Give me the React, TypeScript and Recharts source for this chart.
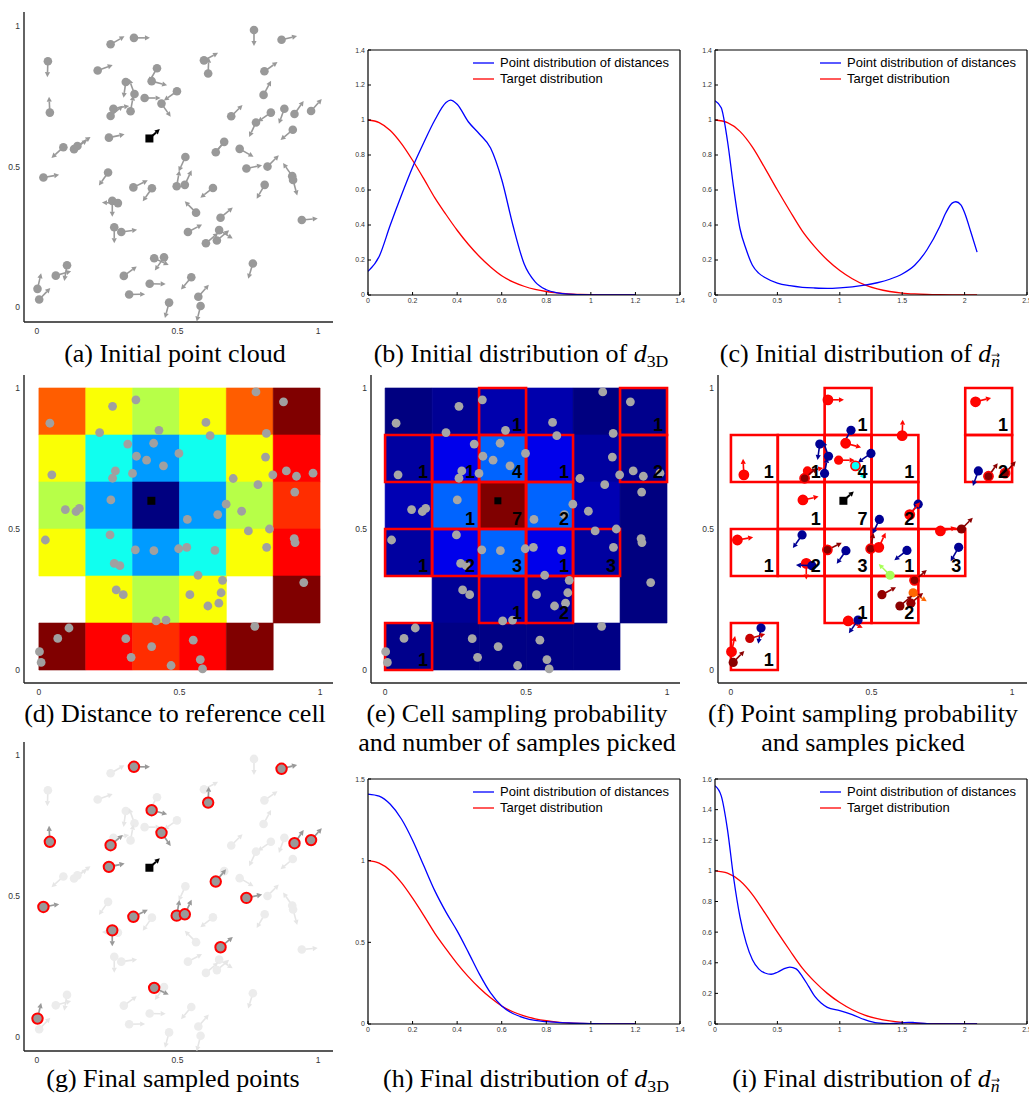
import React from 'react';
import { ScatterChart, Scatter, XAxis, YAxis, ReferenceArea, LineChart, Line, Legend } from 'recharts';

const SANS = '"Liberation Sans", Arial, Helvetica, sans-serif';
const SERIF = '"Liberation Serif", "Times New Roman", Times, serif';

// ---------- point cloud: [x, y, normal direction in degrees] ----------
const cloud: [number, number, number][] = [
  [0.772, 0.986, -90], [0.345, 0.958, 0], [0.262, 0.935, 30], [0.870, 0.951, 14],
  [0.039, 0.875, -92], [0.594, 0.878, 28], [0.609, 0.831, 88], [0.216, 0.842, 20],
  [0.809, 0.839, 35], [0.427, 0.850, -120], [0.408, 0.804, -15], [0.316, 0.801, -98],
  [0.347, 0.758, 110], [0.333, 0.697, 80], [0.383, 0.744, 0], [0.498, 0.768, -145],
  [0.443, 0.724, -55], [0.806, 0.755, 62], [0.046, 0.692, 93], [0.272, 0.706, 10],
  [0.262, 0.680, 40], [0.691, 0.679, 45], [0.832, 0.692, -145], [0.779, 0.657, -115],
  [0.880, 0.706, -110], [0.916, 0.687, 55], [0.975, 0.698, 48], [0.910, 0.631, -140],
  [0.256, 0.603, 12], [0.094, 0.569, -138], [0.132, 0.562, 35], [0.144, 0.573, 35],
  [0.666, 0.588, -130], [0.636, 0.551, 50], [0.721, 0.563, -30], [0.528, 0.534, -115],
  [0.023, 0.461, 10], [0.745, 0.493, 12], [0.820, 0.500, 45], [0.908, 0.466, 125],
  [0.911, 0.452, -75], [0.253, 0.479, -125], [0.343, 0.426, 26], [0.409, 0.423, -125],
  [0.497, 0.430, 80], [0.526, 0.435, 65], [0.626, 0.424, -142], [0.810, 0.435, -120],
  [0.268, 0.378, -90], [0.288, 0.370, 178], [0.566, 0.336, 135], [0.653, 0.318, 40],
  [0.942, 0.310, 5], [0.275, 0.284, -90], [0.300, 0.267, 8], [0.537, 0.267, 28],
  [0.648, 0.274, -32], [0.601, 0.227, 40], [0.640, 0.237, 40], [0.417, 0.174, -25],
  [0.452, 0.177, -125], [0.768, 0.155, -107], [0.107, 0.149, -100], [0.067, 0.112, 16],
  [0.002, 0.065, 77], [0.008, 0.027, 46], [0.309, 0.111, 36], [0.401, 0.083, -1],
  [0.549, 0.106, -130], [0.328, 0.045, 1], [0.574, 0.037, 49], [0.470, 0.016, -105],
  [0.582, 0.004, -104],
];
const referencePoint = [{ x: 0.4, y: 0.6, a: 42 }];

// ---------- grid (6 x 6 cells), rows listed top (row 5) to bottom (row 0) ----------
const gridSize = 6;
const distanceRows: (number | null)[][] = [
  [2.83, 2.24, 2.0, 2.24, 2.83, 3.61],
  [2.24, 1.41, 1.0, 1.41, 2.24, 3.16],
  [2.0, 1.0, 0, 1.0, 2.0, 3.0],
  [2.24, 1.41, 1.0, 1.41, 2.24, 3.16],
  [null, 2.24, 2.0, 2.24, null, 3.61],
  [3.61, 3.16, 3.0, 3.16, 3.61, null],
];
const distanceMax = 3.61;
const cellProbRows: (number | null)[][] = [
  [0.0, 0.02, 0.045, 0.045, 0.0, 0.012],
  [0.032, 0.105, 0.223, 0.105, 0.032, 0.012],
  [0.05, 0.223, 1.0, 0.223, 0.05, 0.0],
  [0.032, 0.105, 0.223, 0.105, 0.032, 0.0],
  [null, 0.022, 0.047, 0.035, null, 0.0],
  [0.012, 0.005, 0.005, 0.005, 0.005, null],
];
// [column, row, samples picked]
const pickedCells: [number, number, number][] = [
  [2, 5, 1], [5, 5, 1], [0, 4, 1], [1, 4, 1], [2, 4, 4], [3, 4, 1], [5, 4, 2],
  [1, 3, 1], [2, 3, 7], [3, 3, 2], [0, 2, 1], [1, 2, 2], [2, 2, 3], [3, 2, 1],
  [4, 2, 3], [2, 1, 1], [3, 1, 2], [0, 0, 1],
];
// [point id, sampling probability (colour scale 0..1)]
const pointProb: [number, number][] = [
  [2, 0.87], [4, 0.87], [7, 0.87], [10, 0.02], [11, 0.87], [12, 0.02], [13, 0.02], [14, 0.02],
  [15, 0.87], [16, 0.02], [17, 0.38], [19, 0.87], [20, 0.87], [21, 0.99], [25, 0.02], [26, 0.99],
  [27, 0.99], [29, 0.87], [33, 0.02], [34, 0.87], [36, 0.02], [37, 0.87], [38, 0.87], [39, 0.99],
  [42, 0.02], [43, 0.99], [44, 0.02], [45, 0.99], [46, 0.87], [47, 0.02], [48, 0.02], [49, 0.87],
  [50, 0.02], [51, 0.54], [52, 0.99], [56, 0.98], [57, 0.775], [58, 0.99], [59, 0.98], [60, 0.87],
  [61, 0.02], [63, 0.02], [64, 0.93], [65, 0.87], [66, 0.99],
];
const sampledIds = [2, 4, 7, 11, 17, 19, 21, 26, 27, 29, 34, 37, 38, 43, 45, 46, 49, 52, 60, 65];

// ---------- distance distributions ----------
const d3dTargetX = [0, 0.05, 0.1, 0.15, 0.2, 0.25, 0.3, 0.35, 0.4, 0.45, 0.5, 0.55, 0.6, 0.65, 0.7, 0.75, 0.8, 0.85, 0.9, 0.95, 1.0, 1.05, 1.1, 1.15, 1.2];
const d3dTargetY = [1.0, 0.985, 0.94, 0.865, 0.77, 0.665, 0.555, 0.46, 0.37, 0.29, 0.22, 0.16, 0.11, 0.075, 0.05, 0.032, 0.02, 0.012, 0.007, 0.004, 0.002, 0.001, 0.0005, 0.0002, 0];
const d3dInitX = [0, 0.05, 0.1, 0.15, 0.2, 0.25, 0.3, 0.35, 0.37, 0.4, 0.45, 0.5, 0.55, 0.6, 0.65, 0.7, 0.75, 0.8, 0.85, 0.9, 1.0, 1.1, 1.2];
const d3dInitY = [0.135, 0.22, 0.4, 0.57, 0.73, 0.87, 1.0, 1.1, 1.114, 1.09, 0.99, 0.92, 0.84, 0.66, 0.4, 0.18, 0.075, 0.03, 0.012, 0.005, 0.001, 0.0, 0.0];
const d3dFinalX = [0, 0.05, 0.1, 0.15, 0.2, 0.25, 0.3, 0.35, 0.4, 0.45, 0.5, 0.55, 0.6, 0.65, 0.7, 0.75, 0.8, 0.9, 1.0, 1.1, 1.2];
const d3dFinalY = [1.408, 1.395, 1.345, 1.255, 1.125, 0.97, 0.815, 0.685, 0.57, 0.44, 0.305, 0.19, 0.11, 0.064, 0.038, 0.022, 0.014, 0.006, 0.002, 0.0005, 0];
const dnTargetX = [0, 0.1, 0.2, 0.3, 0.4, 0.5, 0.6, 0.7, 0.8, 0.9, 1.0, 1.1, 1.2, 1.3, 1.4, 1.5, 1.6, 1.7, 1.8, 1.9, 2.0, 2.1];
const dnTargetY = [1.0, 0.985, 0.935, 0.845, 0.725, 0.6, 0.48, 0.365, 0.275, 0.2, 0.14, 0.093, 0.058, 0.035, 0.02, 0.011, 0.006, 0.003, 0.0015, 0.0007, 0.0003, 0];
const dnInitX = [0, 0.05, 0.1, 0.15, 0.2, 0.25, 0.3, 0.35, 0.4, 0.5, 0.6, 0.7, 0.8, 0.9, 1.0, 1.1, 1.2, 1.3, 1.4, 1.5, 1.6, 1.7, 1.8, 1.85, 1.9, 1.93, 1.97, 2.0, 2.05, 2.1];
const dnInitY = [1.11, 1.07, 0.88, 0.61, 0.38, 0.26, 0.17, 0.125, 0.1, 0.068, 0.053, 0.044, 0.04, 0.038, 0.041, 0.047, 0.056, 0.07, 0.09, 0.12, 0.17, 0.26, 0.39, 0.47, 0.525, 0.533, 0.515, 0.47, 0.36, 0.245];
const dnFinalX = [0, 0.05, 0.1, 0.15, 0.2, 0.25, 0.3, 0.35, 0.4, 0.45, 0.5, 0.55, 0.6, 0.65, 0.7, 0.75, 0.8, 0.85, 0.9, 1.0, 1.1, 1.2, 1.3, 1.4, 1.5, 1.55, 1.6, 1.7, 1.8, 1.9, 2.0, 2.1];
const dnFinalY = [1.556, 1.49, 1.27, 0.95, 0.7, 0.53, 0.42, 0.36, 0.333, 0.325, 0.338, 0.36, 0.372, 0.36, 0.31, 0.246, 0.18, 0.137, 0.109, 0.087, 0.061, 0.028, 0.007, 0.003, 0.008, 0.011, 0.009, 0.003, 0.001, 0, 0, 0];

const d3dTicksX = [0, 0.2, 0.4, 0.6, 0.8, 1, 1.2, 1.4];
const dnTicksX = [0, 0.5, 1, 1.5, 2, 2.5];
const ticks14 = [0, 0.2, 0.4, 0.6, 0.8, 1, 1.2, 1.4];
const ticks15 = [0, 0.5, 1, 1.5];
const ticks16 = [0, 0.2, 0.4, 0.6, 0.8, 1, 1.2, 1.4, 1.6];
const unitTicks = [0, 0.5, 1];
const legendNames = ['Point distribution of distances', 'Target distribution'];
const legendColors = ['#0000ff', '#ff0000'];

// ---------- helpers ----------
function jet(t: number): string {
  const c = (v: number) => Math.round(255 * Math.max(0, Math.min(1, v)));
  return `rgb(${c(1.5 - Math.abs(4 * t - 3))},${c(1.5 - Math.abs(4 * t - 2))},${c(1.5 - Math.abs(4 * t - 1))})`;
}
const series = (xs: number[], ys: number[]) => xs.map((x, i) => ({ x, v: ys[i] }));

type P = { id: number; x: number; y: number; a: number; t?: number; s?: boolean };
const points: P[] = cloud.map(([x, y, a], i) => ({ id: i + 1, x, y, a }));
const sampledSet = new Set(sampledIds);
const probPoints: P[] = pointProb.map(([id, t]) => ({ ...points[id - 1], t, s: sampledSet.has(id) }));
const sampledPoints: P[] = sampledIds.map((id) => points[id - 1]);

type Cell = { col: number; row: number; v: number };
const toCells = (rows: (number | null)[][]): Cell[] => {
  const out: Cell[] = [];
  rows.forEach((r, ri) => r.forEach((v, col) => { if (v !== null) out.push({ col, row: gridSize - 1 - ri, v }); }));
  return out;
};
const distanceCells = toCells(distanceRows);
const probCells = toCells(cellProbRows);

function arrow(cx: number, cy: number, a: number, color: string, len = 16, w = 1.6) {
  const rad = (a * Math.PI) / 180;
  const ux = Math.cos(rad), uy = -Math.sin(rad);
  const head = 5, hw = 2.6;
  const tx = cx + ux * len, ty = cy + uy * len;
  const bx = cx + ux * (len - head), by = cy + uy * (len - head);
  const px = -uy, py = ux;
  return (
    <>
      <line x1={cx} y1={cy} x2={bx} y2={by} stroke={color} strokeWidth={w} />
      <polygon points={`${tx},${ty} ${bx + px * hw},${by + py * hw} ${bx - px * hw},${by - py * hw}`} fill={color} />
    </>
  );
}

const plainDot = (fill: string, r: number) => (p: any) => <circle cx={p.cx} cy={p.cy} r={r} fill={fill} />;
const normalDot = (fill: string, arrowColor: string, r: number, ring?: string) => (p: any) => (
  <g>
    {arrow(p.cx, p.cy, p.payload.a, arrowColor)}
    <circle cx={p.cx} cy={p.cy} r={r} fill={fill} stroke={ring || 'none'} strokeWidth={ring ? 2 : 0} />
  </g>
);
const probDot = (p: any) => {
  const c = jet(p.payload.t);
  return (
    <g>
      {arrow(p.cx, p.cy, p.payload.a, c)}
      <circle cx={p.cx} cy={p.cy} r={4.6} fill={c} stroke={p.payload.s ? '#ff0000' : 'none'} strokeWidth={p.payload.s ? 1.6 : 0} />
    </g>
  );
};
const refSquare = (size: number, withArrow: boolean) => (p: any) => (
  <g>
    {withArrow ? arrow(p.cx, p.cy, p.payload.a, '#000', 14, 2) : null}
    <rect x={p.cx - size / 2} y={p.cy - size / 2} width={size} height={size} fill="#000" />
  </g>
);

type Geom = { x0: number; y0: number; x1: number; y1: number; xd: [number, number]; yd: [number, number] };
const geomA: Geom = { x0: 24, y0: 12, x1: 333, y1: 322, xd: [-0.046, 1.053], yd: [-0.053, 1.05] };
const geomD: Geom = { x0: 24, y0: 375, x1: 333, y1: 683, xd: [-0.053, 1.046], yd: [-0.046, 1.046] };
const geomE: Geom = { x0: 371, y0: 375, x1: 680, y1: 683, xd: [-0.05, 1.046], yd: [-0.046, 1.046] };
const geomF: Geom = { x0: 718, y0: 375, x1: 1027, y1: 683, xd: [-0.046, 1.053], yd: [-0.046, 1.046] };
const geomG: Geom = { x0: 24, y0: 742, x1: 333, y1: 1051, xd: [-0.046, 1.053], yd: [-0.05, 1.046] };

function ScatterPanel({ g, children }: { g: Geom; children: React.ReactNode }) {
  const yw = 22, xh = 22, mt = 2, mr = 2, mb = 2;
  const tick = { fontSize: 8.5, fill: '#333', fontFamily: SANS };
  return (
    <div style={{ position: 'absolute', left: g.x0 - yw, top: g.y0 - mt }}>
      <ScatterChart width={g.x1 - g.x0 + yw + mr} height={g.y1 - g.y0 + xh + mt + mb} margin={{ top: mt, right: mr, bottom: mb, left: 0 }}>
        <XAxis type="number" dataKey="x" domain={g.xd} ticks={unitTicks} allowDataOverflow height={xh}
          axisLine={{ stroke: '#222', strokeWidth: 1.4 }} tickLine={false} tickSize={3} tickMargin={3} tick={tick} interval={0} />
        <YAxis type="number" dataKey="y" domain={g.yd} ticks={unitTicks} allowDataOverflow width={yw}
          axisLine={{ stroke: '#222', strokeWidth: 1.4 }} tickLine={false} tickSize={2} tickMargin={2} tick={tick} interval={0} />
        {children}
      </ScatterChart>
    </div>
  );
}

const cellAreas = (cells: Cell[], colorOf: (v: number) => string) =>
  cells.map((c) => {
    const col = colorOf(c.v);
    return (
      <ReferenceArea key={`c${c.col}-${c.row}`} x1={c.col / gridSize} x2={(c.col + 1) / gridSize}
        y1={c.row / gridSize} y2={(c.row + 1) / gridSize} fill={col} fillOpacity={1} stroke={col} strokeWidth={0.6} ifOverflow="visible" />
    );
  });
const pickedAreas = () =>
  pickedCells.map(([col, row, n]) => (
    <ReferenceArea key={`p${col}-${row}`} x1={col / gridSize} x2={(col + 1) / gridSize}
      y1={row / gridSize} y2={(row + 1) / gridSize} fill="none" fillOpacity={0} stroke="#ff0000" strokeWidth={2.6} ifOverflow="visible"
      label={{ value: String(n), position: 'insideBottomRight', offset: 4, fill: '#000', fontSize: 18, fontWeight: 'bold', fontFamily: SANS }} />
  ));

function LegendBox() {
  return (
    <div style={{ fontFamily: SANS, fontSize: 13, color: '#000', lineHeight: '16px' }}>
      {legendNames.map((n, i) => (
        <div key={n} style={{ display: 'flex', alignItems: 'center', height: 16, whiteSpace: 'nowrap' }}>
          <svg width={21} height={4} style={{ marginRight: 6, display: 'block' }}>
            <line x1={0} y1={2} x2={21} y2={2} stroke={legendColors[i]} strokeWidth={1.3} />
          </svg>
          {n}
        </div>
      ))}
    </div>
  );
}

type CurveProps = {
  x0: number; y0: number; x1: number; y1: number; xMax: number; yMax: number;
  xTicks: number[]; yTicks: number[]; point: { x: number; v: number }[]; target: { x: number; v: number }[];
};
function CurvePanel({ x0, y0, x1, y1, xMax, yMax, xTicks, yTicks, point, target }: CurveProps) {
  const yw = 24, xh = 16, mt = 2, mr = 8, mb = 2, hTop = 1, wRight = 1;
  const tick = { fontSize: 7, fill: '#333', fontFamily: SANS };
  const axisLine = { stroke: '#000', strokeWidth: 1.2 };
  const tickLine = { stroke: '#000', strokeWidth: 1 };
  return (
    <div style={{ position: 'absolute', left: x0 - yw, top: y0 - mt - hTop }}>
      <LineChart width={x1 - x0 + yw + wRight + mr} height={y1 - y0 + mt + hTop + xh + mb} margin={{ top: mt, right: mr, bottom: mb, left: 0 }}>
        <XAxis xAxisId="b" type="number" dataKey="x" domain={[0, xMax]} ticks={xTicks} allowDataOverflow height={xh}
          axisLine={axisLine} tickLine={tickLine} tickSize={-3} tickMargin={6.5} tick={tick} interval={0} />
        <XAxis xAxisId="t" orientation="top" type="number" dataKey="x" domain={[0, xMax]} ticks={xTicks} allowDataOverflow height={hTop}
          axisLine={axisLine} tickLine={tickLine} tickSize={-3} tick={false} interval={0} />
        <YAxis yAxisId="l" type="number" domain={[0, yMax]} ticks={yTicks} allowDataOverflow width={yw}
          axisLine={axisLine} tickLine={tickLine} tickSize={-3} tickMargin={6} tick={tick} interval={0} />
        <YAxis yAxisId="r" orientation="right" type="number" domain={[0, yMax]} ticks={yTicks} allowDataOverflow width={wRight}
          axisLine={axisLine} tickLine={tickLine} tickSize={-3} tick={false} interval={0} />
        <Line xAxisId="b" yAxisId="l" data={target} dataKey="v" type="monotone" stroke="#ff0000" strokeWidth={1.3} dot={false} isAnimationActive={false} />
        <Line xAxisId="b" yAxisId="l" data={point} dataKey="v" type="monotone" stroke="#0000ff" strokeWidth={1.3} dot={false} isAnimationActive={false} />
        <Legend layout="vertical" align="center" verticalAlign="middle"
          wrapperStyle={{ left: yw + 105, top: mt + hTop + 5, width: 'auto', height: 'auto' }} content={() => <LegendBox />} />
      </LineChart>
    </div>
  );
}

const d3d = (
  <>
    <i>d</i>
    <sub style={{ fontSize: '0.68em', verticalAlign: '-0.3em' }}>3D</sub>
  </>
);
const dn = (
  <>
    <i>d</i>
    <sub style={{ fontSize: '0.68em', verticalAlign: '-0.3em' }}><i>n</i>{'\u20D7'}</sub>
  </>
);
const captions: { cx: number; top: number; lines: React.ReactNode[] }[] = [
  { cx: 175, top: 339, lines: ['(a) Initial point cloud'] },
  { cx: 521, top: 339, lines: [<>(b) Initial distribution of {d3d}</>] },
  { cx: 860, top: 339, lines: [<>(c) Initial distribution of {dn}</>] },
  { cx: 175, top: 699, lines: ['(d) Distance to reference cell'] },
  { cx: 517, top: 699, lines: ['(e) Cell sampling probability', 'and number of samples picked'] },
  { cx: 863, top: 699, lines: ['(f) Point sampling probability', 'and samples picked'] },
  { cx: 173, top: 1064, lines: ['(g) Final sampled points'] },
  { cx: 526, top: 1064, lines: [<>(h) Final distribution of {d3d}</>] },
  { cx: 866, top: 1064, lines: [<>(i) Final distribution of {dn}</>] },
];

export default function App() {
  return (
    <div style={{ position: 'absolute', left: 0, top: 0, width: 1029, height: 1095, background: '#fff', overflow: 'hidden' }}>
      {/* (a) */}
      <ScatterPanel g={geomA}>
        <Scatter data={points} shape={normalDot('#999999', '#999999', 4.3)} isAnimationActive={false} />
        <Scatter data={referencePoint} shape={refSquare(8, true)} isAnimationActive={false} />
      </ScatterPanel>

      {/* (b), (c) */}
      <CurvePanel x0={368} y0={50} x1={680} y1={295} xMax={1.4} yMax={1.4} xTicks={d3dTicksX} yTicks={ticks14}
        point={series(d3dInitX, d3dInitY)} target={series(d3dTargetX, d3dTargetY)} />
      <CurvePanel x0={715} y0={50} x1={1027} y1={295} xMax={2.5} yMax={1.4} xTicks={dnTicksX} yTicks={ticks14}
        point={series(dnInitX, dnInitY)} target={series(dnTargetX, dnTargetY)} />

      {/* (d) */}
      <ScatterPanel g={geomD}>
        {cellAreas(distanceCells, (v) => jet(v / distanceMax))}
        <Scatter data={points} shape={plainDot('#a0a0a0', 4.4)} isAnimationActive={false} />
        <Scatter data={referencePoint} shape={refSquare(8, false)} isAnimationActive={false} />
      </ScatterPanel>

      {/* (e) */}
      <ScatterPanel g={geomE}>
        {cellAreas(probCells, (v) => jet(v))}
        <Scatter data={points} shape={plainDot('#a6a6a6', 4.4)} isAnimationActive={false} />
        <Scatter data={referencePoint} shape={refSquare(7, false)} isAnimationActive={false} />
        {pickedAreas()}
      </ScatterPanel>

      {/* (f) */}
      <ScatterPanel g={geomF}>
        {pickedAreas()}
        <Scatter data={probPoints} shape={probDot} isAnimationActive={false} />
        <Scatter data={referencePoint} shape={refSquare(8, true)} isAnimationActive={false} />
      </ScatterPanel>

      {/* (g) */}
      <ScatterPanel g={geomG}>
        <Scatter data={points} shape={normalDot('#ececec', '#e6e6e6', 4.3)} isAnimationActive={false} />
        <Scatter data={sampledPoints} shape={normalDot('#999999', '#999999', 5.2, '#ff0000')} isAnimationActive={false} />
        <Scatter data={referencePoint} shape={refSquare(8, true)} isAnimationActive={false} />
      </ScatterPanel>

      {/* (h), (i) */}
      <CurvePanel x0={368} y0={779} x1={680} y1={1024} xMax={1.4} yMax={1.5} xTicks={d3dTicksX} yTicks={ticks15}
        point={series(d3dFinalX, d3dFinalY)} target={series(d3dTargetX, d3dTargetY)} />
      <CurvePanel x0={715} y0={779} x1={1027} y1={1024} xMax={2.5} yMax={1.6} xTicks={dnTicksX} yTicks={ticks16}
        point={series(dnFinalX, dnFinalY)} target={series(dnTargetX, dnTargetY)} />

      {captions.map((c, i) => (
        <div key={i} style={{ position: 'absolute', left: c.cx - 190, top: c.top, width: 380, textAlign: 'center',
          fontFamily: SERIF, fontSize: 26, lineHeight: '29px', color: '#000', whiteSpace: 'nowrap' }}>
          {c.lines.map((l, j) => <div key={j}>{l}</div>)}
        </div>
      ))}
    </div>
  );
}
